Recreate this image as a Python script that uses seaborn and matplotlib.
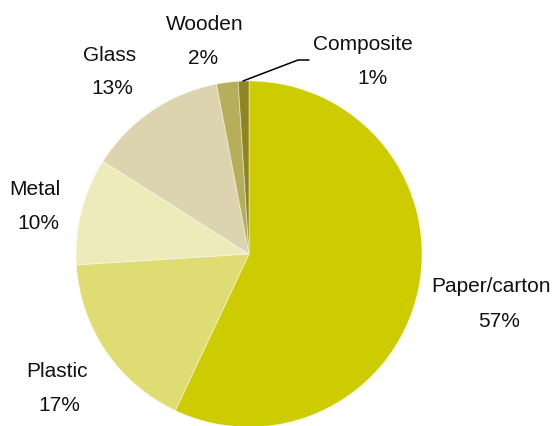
import matplotlib
matplotlib.use("Agg")
import matplotlib.pyplot as plt
from matplotlib import font_manager
import seaborn as sns

categories = ["Paper/carton", "Plastic", "Metal", "Glass", "Wooden", "Composite"]
shares = [57, 17, 10, 13, 2, 1]
colors = ["#cccc00", "#dedc72", "#eeebbb", "#dcd4ae", "#b7ae5c", "#8d8520"]

sns.set_theme(style="white")
installed = {f.name for f in font_manager.fontManager.ttflist}
family = [f for f in ["Liberation Sans", "DejaVu Sans"] if f in installed]
plt.rcParams["font.family"] = family or ["DejaVu Sans"]
fsize = 15

W, H = 553, 427
fig = plt.figure(figsize=(W / 100, H / 100), dpi=100)
ax = fig.add_axes([0, 0, 1, 1])

cx, cy, r = 249, H - 255, 173
ax.pie(shares, colors=colors, startangle=90, counterclock=False,
       center=(cx, cy), radius=r, frame=True,
       wedgeprops=dict(edgecolor=(1, 1, 1, 0.5), linewidth=0.6))
ax.set_xlim(0, W)
ax.set_ylim(0, H)
ax.set_aspect("equal")
ax.axis("off")

# label placement: (name x, name baseline, value x, value baseline), pixels from top
label_pos = {
    "Paper/carton": (491, 292, 499, 327),
    "Plastic": (57, 377, 59, 411),
    "Metal": (35, 195, 38, 229),
    "Glass": (110, 61, 112, 94),
    "Wooden": (205, 30, 203, 64),
    "Composite": (363, 50, 372, 84),
}
for name, val in zip(categories, shares):
    nx, ny, vx, vy = label_pos[name]
    ax.text(nx, H - ny, name, ha="center", va="baseline",
            fontsize=fsize, color="#111111")
    ax.text(vx, H - vy, f"{val}%", ha="center", va="baseline",
            fontsize=fsize, color="#111111")

# leader line for the smallest slice
ax.plot([243, 298, 309], [H - 82, H - 61, H - 61], color="black", lw=1.1)

fig.savefig("out.png", dpi=100)
